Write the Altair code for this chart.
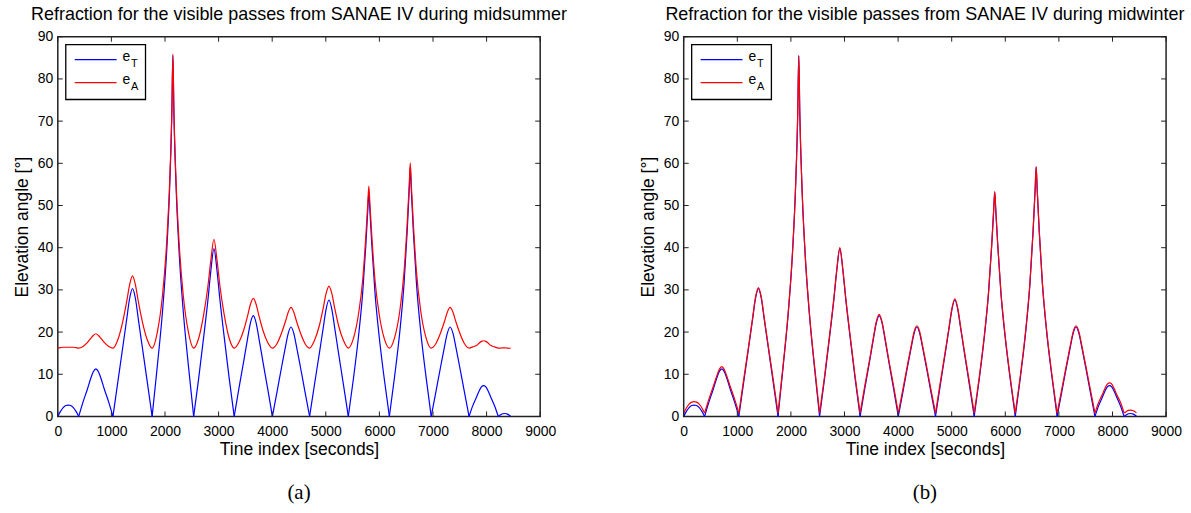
import altair as alt
import pandas as pd

# ---- data (time in s, elevation in degrees) ----
pass_times = [
    [0, 50, 100, 150, 195, 240, 290, 340, 390],
    [390, 470, 550, 614, 662, 710, 758, 806, 870, 950, 1029],
    [1029, 1120, 1212, 1285, 1339, 1394, 1449, 1503, 1577, 1669, 1760],
    [1760, 1857, 1954, 2031, 2089, 2128, 2147, 2166, 2205, 2263, 2340, 2437, 2535],
    [2535, 2630, 2724, 2800, 2856, 2913, 2970, 3026, 3102, 3196, 3291],
    [3291, 3380, 3469, 3540, 3594, 3647, 3700, 3754, 3825, 3914, 4004],
    [4004, 4091, 4178, 4247, 4299, 4351, 4403, 4455, 4524, 4611, 4698],
    [4698, 4788, 4879, 4952, 5005, 5059, 5113, 5166, 5239, 5330, 5420],
    [5420, 5516, 5612, 5688, 5746, 5784, 5803, 5822, 5860, 5918, 5994, 6090, 6186],
    [6186, 6284, 6381, 6459, 6518, 6557, 6576, 6595, 6634, 6693, 6771, 6869, 6967],
    [6967, 7055, 7144, 7214, 7267, 7320, 7373, 7426, 7496, 7585, 7673],
    [7673, 7741, 7809, 7863, 7904, 7945, 7986, 8027, 8081, 8150, 8218],
    [8218, 8260, 8300, 8343, 8390, 8448],
]

e_T = [
    [0, 1.2, 2.1, 2.6, 2.7, 2.6, 2.1, 1.2, 0],
    [0, 3.4, 6.4, 9.0, 10.6, 11.3, 10.6, 9.0, 6.4, 3.4, 0],
    [0, 8.2, 16.4, 23.0, 27.9, 30.3, 27.9, 23.0, 16.4, 8.2, 0],
    [0, 12, 25, 39, 55, 72, 85.5, 72, 55, 39, 25, 12, 0],
    [0, 9.2, 19.1, 27.5, 34.6, 39.8, 34.6, 27.5, 19.1, 9.2, 0],
    [0, 6.7, 13.1, 18.4, 22.2, 23.9, 22.2, 18.4, 13.1, 6.7, 0],
    [0, 5.9, 11.9, 16.5, 19.7, 21.2, 19.7, 16.5, 11.9, 5.9, 0],
    [0, 7.5, 14.9, 21.0, 25.4, 27.6, 25.4, 21.0, 14.9, 7.5, 0],
    [0, 9.0, 19.2, 29.3, 40.4, 49.0, 53.2, 49.0, 40.4, 29.3, 19.2, 9.0, 0],
    [0, 9.5, 20.1, 31.3, 43.7, 53.8, 59.1, 53.8, 43.7, 31.3, 20.1, 9.5, 0],
    [0, 5.9, 11.9, 16.5, 19.7, 21.2, 19.7, 16.5, 11.9, 5.9, 0],
    [0, 2.5, 4.5, 6.1, 7.0, 7.3, 7.0, 6.1, 4.5, 2.5, 0],
    [0, 0.4, 0.65, 0.7, 0.55, 0.05],
]

e_A_summer = [
    [16.2, 16.3, 16.4, 16.4, 16.4, 16.4, 16.4, 16.3, 16.2],
    [16.2, 16.6, 17.5, 18.5, 19.2, 19.6, 19.2, 18.5, 17.5, 16.6, 16.2],
    [16.2, 18.2, 22.5, 27.2, 31.15, 33.3, 31.15, 27.2, 22.5, 18.2, 16.2],
    [16.2, 20.0, 28.8, 41.2, 56.3, 72.7, 85.9, 72.7, 56.3, 41.2, 28.8, 20.0, 16.2],
    [16.2, 18.6, 24.3, 30.8, 37.1, 42.0, 37.1, 30.8, 24.3, 18.6, 16.2],
    [16.2, 17.6, 20.5, 23.8, 26.6, 28.0, 26.6, 23.8, 20.5, 17.6, 16.2],
    [16.2, 17.3, 19.9, 22.5, 24.7, 25.85, 24.7, 22.5, 19.9, 17.3, 16.2],
    [16.2, 18.0, 21.5, 25.7, 29.1, 30.9, 29.1, 25.7, 21.5, 18.0, 16.2],
    [16.2, 18.5, 24.4, 32.3, 42.5, 50.6, 54.6, 50.6, 42.5, 32.3, 24.4, 18.5, 16.2],
    [16.2, 18.7, 25.0, 34.1, 45.6, 55.1, 60.1, 55.1, 45.6, 34.1, 25.0, 18.7, 16.2],
    [16.2, 17.3, 19.9, 22.5, 24.7, 25.85, 24.7, 22.5, 19.9, 17.3, 16.2],
    [16.2, 16.5, 16.8, 17.4, 17.8, 17.95, 17.8, 17.4, 16.8, 16.5, 16.2],
    [16.2, 16.2, 16.25, 16.25, 16.2, 16.15],
]

e_A_winter = [
    [0.8, 2.0, 2.9, 3.4, 3.5, 3.4, 2.9, 2.0, 0.8],
    [0.8, 4.1, 7.05, 9.5, 11.1, 11.8, 11.1, 9.5, 7.05, 4.1, 0.8],
    [0.8, 8.85, 16.8, 23.3, 28.2, 30.55, 28.2, 23.3, 16.8, 8.85, 0.8],
    [0.8, 12.45, 25.3, 39.2, 55.1, 72.06, 85.56, 72.06, 55.1, 39.2, 25.3, 12.45, 0.8],
    [0.8, 9.7, 19.5, 27.8, 34.8, 40.0, 34.8, 27.8, 19.5, 9.7, 0.8],
    [0.8, 7.35, 13.5, 18.8, 22.5, 24.2, 22.5, 18.8, 13.5, 7.35, 0.8],
    [0.8, 6.55, 12.4, 16.9, 20.1, 21.5, 20.1, 16.9, 12.4, 6.55, 0.8],
    [0.8, 8.15, 15.3, 21.3, 25.7, 27.9, 25.7, 21.3, 15.3, 8.15, 0.8],
    [0.8, 9.5, 19.6, 29.6, 40.6, 49.1, 53.3, 49.1, 40.6, 29.6, 19.6, 9.5, 0.8],
    [0.8, 10.0, 20.5, 31.5, 43.9, 53.9, 59.2, 53.9, 43.9, 31.5, 20.5, 10.0, 0.8],
    [0.8, 6.55, 12.4, 16.9, 20.1, 21.5, 20.1, 16.9, 12.4, 6.55, 0.8],
    [0.8, 3.3, 5.15, 6.75, 7.65, 7.95, 7.65, 6.75, 5.15, 3.3, 0.8],
    [0.8, 1.2, 1.45, 1.5, 1.35, 0.85],
]

x_ticks = [0, 1000, 2000, 3000, 4000, 5000, 6000, 7000, 8000, 9000]
y_ticks = [0, 10, 20, 30, 40, 50, 60, 70, 80, 90]
titles = ["Refraction for the visible passes from SANAE IV during midsummer",
          "Refraction for the visible passes from SANAE IV during midwinter"]
captions = ["(a)", "(b)"]
legend_labels = ["e", "e"]
legend_subs = ["T", "A"]

# ---- tables ----
rows = []
for i, (ts, bs, ss, ws) in enumerate(zip(pass_times, e_T, e_A_summer, e_A_winter)):
    for t, b, s, w in zip(ts, bs, ss, ws):
        rows.append({"pid": i, "t": t, "eT": b, "eS": s, "eW": w})
df = pd.DataFrame(rows)

W, H = 484, 381
BLUE, RED = "#0000ff", "#ff0000"
FONT = "Liberation Sans"

xscale = alt.Scale(domain=[0, 9000], nice=False, zero=False)
yscale = alt.Scale(domain=[0, 90], nice=False, zero=False)

x_axis = alt.Axis(values=x_ticks, format="d", title="Tine index [seconds]",
                  ticks=False, grid=False, domain=False, labelFontSize=14,
                  labelFont=FONT, labelColor="black", labelPadding=8,
                  titleFont=FONT, titleFontSize=17.5, titleFontWeight="normal",
                  titleColor="black", titlePadding=2, labelFlush=False)
y_axis = alt.Axis(values=y_ticks, format="d", title="Elevation angle [°]",
                  ticks=False, grid=False, domain=False, labelFontSize=14,
                  labelFont=FONT, labelColor="black", labelPadding=5,
                  titleFont=FONT, titleFontSize=17.5, titleFontWeight="normal",
                  titleColor="black", titlePadding=6, labelFlush=False)

one = pd.DataFrame({"k": [0]})


def panel(idx):
    if idx == 0:
        red_df = df.drop_duplicates("t")[["t", "eS"]].rename(columns={"eS": "e"})
        red = alt.Chart(red_df).mark_line(color=RED, strokeWidth=1.2,
                                          interpolate="monotone").encode(
            x=alt.X("t:Q", scale=xscale, axis=x_axis),
            y=alt.Y("e:Q", scale=yscale, axis=y_axis),
        )
    else:
        red_df = df[["pid", "t", "eW"]].rename(columns={"eW": "e"})
        red = alt.Chart(red_df).mark_line(color=RED, strokeWidth=1.2,
                                          interpolate="monotone").encode(
            x=alt.X("t:Q", scale=xscale, axis=x_axis),
            y=alt.Y("e:Q", scale=yscale, axis=y_axis),
            detail="pid:N",
        )
    blue_df = df[["pid", "t", "eT"]].rename(columns={"eT": "e"})
    blue = alt.Chart(blue_df).mark_line(color=BLUE, strokeWidth=1.2,
                                        interpolate="monotone").encode(
        x=alt.X("t:Q", scale=xscale, axis=x_axis),
        y=alt.Y("e:Q", scale=yscale, axis=y_axis),
        detail="pid:N",
    )

    xt = pd.DataFrame({"t": x_ticks})
    yt = pd.DataFrame({"e": y_ticks})
    tick_style = dict(color="#222222", strokeWidth=1)
    xb = alt.Chart(xt).mark_rule(**tick_style).encode(
        x=alt.X("t:Q", scale=xscale, axis=x_axis), y=alt.value(H), y2=alt.value(H - 5))
    xtp = alt.Chart(xt).mark_rule(**tick_style).encode(
        x=alt.X("t:Q", scale=xscale, axis=x_axis), y=alt.value(0), y2=alt.value(5))
    yl = alt.Chart(yt).mark_rule(**tick_style).encode(
        y=alt.Y("e:Q", scale=yscale, axis=y_axis), x=alt.value(0), x2=alt.value(5))
    yr = alt.Chart(yt).mark_rule(**tick_style).encode(
        y=alt.Y("e:Q", scale=yscale, axis=y_axis), x=alt.value(W), x2=alt.value(W - 5))

    # legend box
    box = alt.Chart(one).mark_rect(fill="white", stroke="black", strokeWidth=1.3).encode(
        x=alt.value(8), x2=alt.value(88), y=alt.value(8), y2=alt.value(63))
    l1 = alt.Chart(one).mark_rule(color=BLUE, strokeWidth=1.2).encode(
        x=alt.value(17), x2=alt.value(59), y=alt.value(23))
    l2 = alt.Chart(one).mark_rule(color=RED, strokeWidth=1.2).encode(
        x=alt.value(17), x2=alt.value(59), y=alt.value(46))
    txt = dict(font=FONT, color="black", align="left", baseline="middle")
    t1 = alt.Chart(one).mark_text(fontSize=14, **txt).encode(
        x=alt.value(65), y=alt.value(20), text=alt.value(legend_labels[0]))
    s1 = alt.Chart(one).mark_text(fontSize=11, **txt).encode(
        x=alt.value(73.5), y=alt.value(27), text=alt.value(legend_subs[0]))
    t2 = alt.Chart(one).mark_text(fontSize=14, **txt).encode(
        x=alt.value(65), y=alt.value(43), text=alt.value(legend_labels[1]))
    s2 = alt.Chart(one).mark_text(fontSize=11, **txt).encode(
        x=alt.value(73.5), y=alt.value(50), text=alt.value(legend_subs[1]))

    cap = alt.Chart(one).mark_text(fontSize=21, font="Liberation Serif",
                                   color="black", align="center", baseline="middle").encode(
        x=alt.value(W / 2), y=alt.value(H + 77), text=alt.value(captions[idx]))

    return alt.layer(blue, red, xb, xtp, yl, yr, box, l1, l2, t1, s1, t2, s2, cap).properties(
        width=W, height=H,
        title=alt.TitleParams(titles[idx], fontSize=18, font=FONT,
                              fontWeight="normal", color="black",
                              anchor="middle", offset=6),
    )


chart = alt.hconcat(panel(0), panel(1), spacing=70).properties(
    padding={"left": 12, "top": 4, "right": 5, "bottom": 5},
    background="white",
).configure_view(stroke="#222222", strokeWidth=1.5)

chart.save("out.html", embed_options={"renderer": "svg", "actions": False})
